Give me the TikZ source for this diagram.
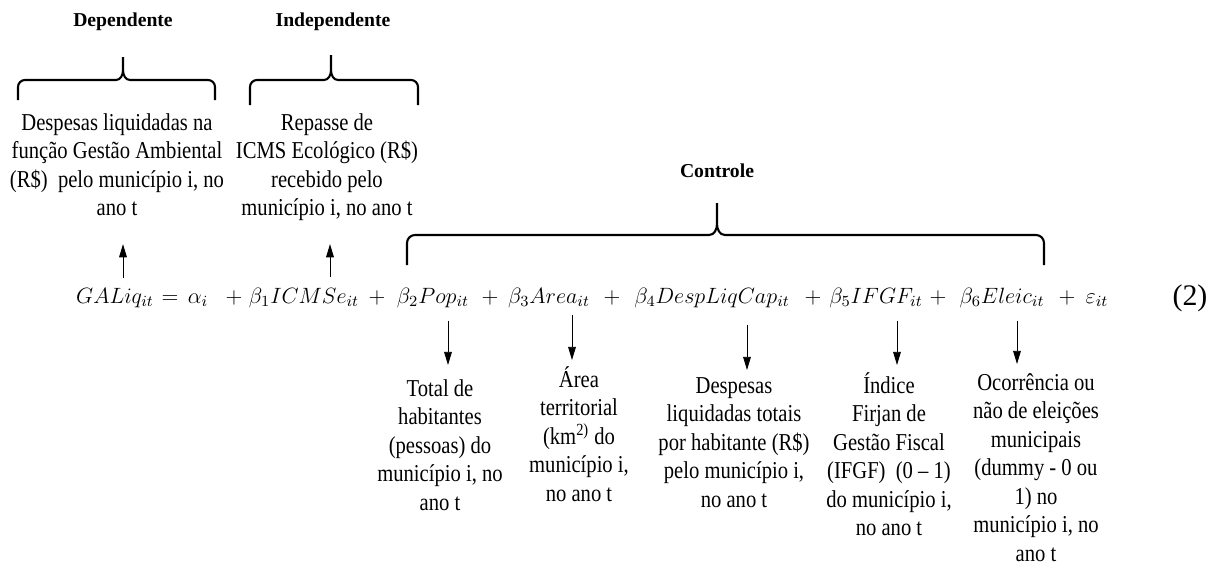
\RequirePackage{fix-cm}
\documentclass[tikz,border=0pt]{standalone}
\usepackage[no-math]{fontspec}
\setmainfont{Liberation Serif}
\newfontfamily\descfont{Liberation Serif}[FakeStretch=0.85]
\usetikzlibrary{arrows.meta}

\begin{document}
\begin{tikzpicture}[x=0.02cm,y=-0.02cm,>={Triangle[length=7.5pt,width=4.4pt]},
  title node/.style={font=\fontsize{11.2}{13}\selectfont\bfseries},
  desc node/.style={align=center,inner sep=0pt,anchor=north,font=\descfont\fontsize{13.8}{16.2}\selectfont},
  term node/.style={anchor=base,inner sep=0pt,font=\fontsize{12.6}{15}\selectfont},
  brace line/.style={line width=1.2pt},
  up arrow/.style={->,line width=0.5pt,shorten <=0.2cm},
  down arrow/.style={->,line width=0.5pt,shorten <=0.26cm,shorten >=0.2cm}]

  \useasboundingbox (0,0) rectangle (1221,569);

  % titles
  \node[title node] (deptitle) at (123,22) {Dependente};
  \node[title node] (indtitle) at (333,22) {Independente};
  \node[title node] (ctltitle) at (717,171) {Controle};

  % braces
  \draw[brace line] (18,100) -- (18,87) to[out=90,in=180] (25,80) -- (116,80) to[out=0,in=-90] (123,70) -- (123,57)
    (123,70) to[out=-90,in=180] (130,80) -- (208,80) to[out=0,in=90] (215,87) -- (215,100);
  \draw[brace line] (250,105) -- (250,87) to[out=90,in=180] (257,80) -- (324,80) to[out=0,in=-90] (331,70) -- (331,55)
    (331,70) to[out=-90,in=180] (338,80) -- (411,80) to[out=0,in=90] (418,87) -- (418,105);
  \draw[brace line] (407,265) -- (407,243) to[out=90,in=180] (415,235) -- (709,235) to[out=0,in=-90] (717,224) -- (717,203)
    (717,224) to[out=-90,in=180] (725,235) -- (1036,235) to[out=0,in=90] (1044,243) -- (1044,265);

  % upper descriptions
  \node[desc node] (dep) at (117,113) {Despesas liquidadas na\\função Gestão Ambiental\\(R\$)~ pelo município i, no\\ano t};
  \node[desc node] (ind) at (327,113) {Repasse de\\ICMS Ecológico (R\$)\\recebido pelo\\município i, no ano t};

  % equation
  \node[term node] (galiq) at (115,303) {$GALiq_{it}$};
  \node[term node] (eq) at (170,303) {$=$};
  \node[term node] (alpha) at (198,303) {$\alpha_i$};
  \node[term node] (plus1) at (234,303) {$+$};
  \node[term node] (icms) at (304,303) {$\beta_1 ICMSe_{it}$};
  \node[term node] (plus2) at (377,303) {$+$};
  \node[term node] (pop) at (433,303) {$\beta_2 Pop_{it}$};
  \node[term node] (plus3) at (490,303) {$+$};
  \node[term node] (area) at (549,303) {$\beta_3 Area_{it}$};
  \node[term node] (plus4) at (612,303) {$+$};
  \node[term node] (desp) at (712,303) {$\beta_4 DespLiqCap_{it}$};
  \node[term node] (plus5) at (813,303) {$+$};
  \node[term node] (ifgf) at (876,303) {$\beta_5 IFGF_{it}$};
  \node[term node] (plus6) at (938,303) {$+$};
  \node[term node] (eleic) at (1002,303) {$\beta_6 Eleic_{it}$};
  \node[term node] (plus7) at (1067,303) {$+$};
  \node[term node] (eps) at (1097,303) {$\varepsilon_{it}$};
  \node[font=\fontsize{17}{19}\selectfont] (num) at (1190,298) {(2)};

  % lower descriptions
  \node[desc node] (popd) at (440,379) {Total de\\habitantes\\(pessoas) do\\município i, no\\ano t};
  \node[desc node] (aread) at (579,366) {Área\\territorial\\(km\textsuperscript{2)} do\\município i,\\no ano t};
  \node[desc node] (despd) at (734,377) {Despesas\\liquidadas totais\\por habitante (R\$)\\pelo município i,\\no ano t};
  \node[desc node] (ifgfd) at (889,372) {Índice\\Firjan de\\Gestão Fiscal\\(IFGF)~ (0 – 1)\\do município i,\\no ano t};
  \node[desc node] (eleicd) at (1036,373) {Ocorrência ou\\não de eleições\\municipais\\(dummy - 0 ou\\1) no\\município i, no\\ano t};

  \path[up arrow]
    (galiq.north -| 123,0) edge[shorten >=0.56cm] (dep.south -| 123,0)
    (icms.north -| 330,0) edge[shorten >=0.46cm] (ind.south -| 330,0);

  \path[down arrow]
    (pop.south -| 448,0) edge[shorten >=0.28cm] (popd.north -| 448,0)
    (area.south -| 572,0) edge[shorten <=0.14cm,shorten >=0.12cm] (aread.north -| 572,0)
    (desp.south -| 747,0) edge[shorten <=0.34cm,shorten >=0.14cm] (despd.north -| 747,0)
    (ifgf.south -| 897,0) edge[shorten >=0.14cm] (ifgfd.north -| 897,0)
    (eleic.south -| 1017,0) edge[shorten >=0.18cm] (eleicd.north -| 1017,0);
\end{tikzpicture}
\end{document}
